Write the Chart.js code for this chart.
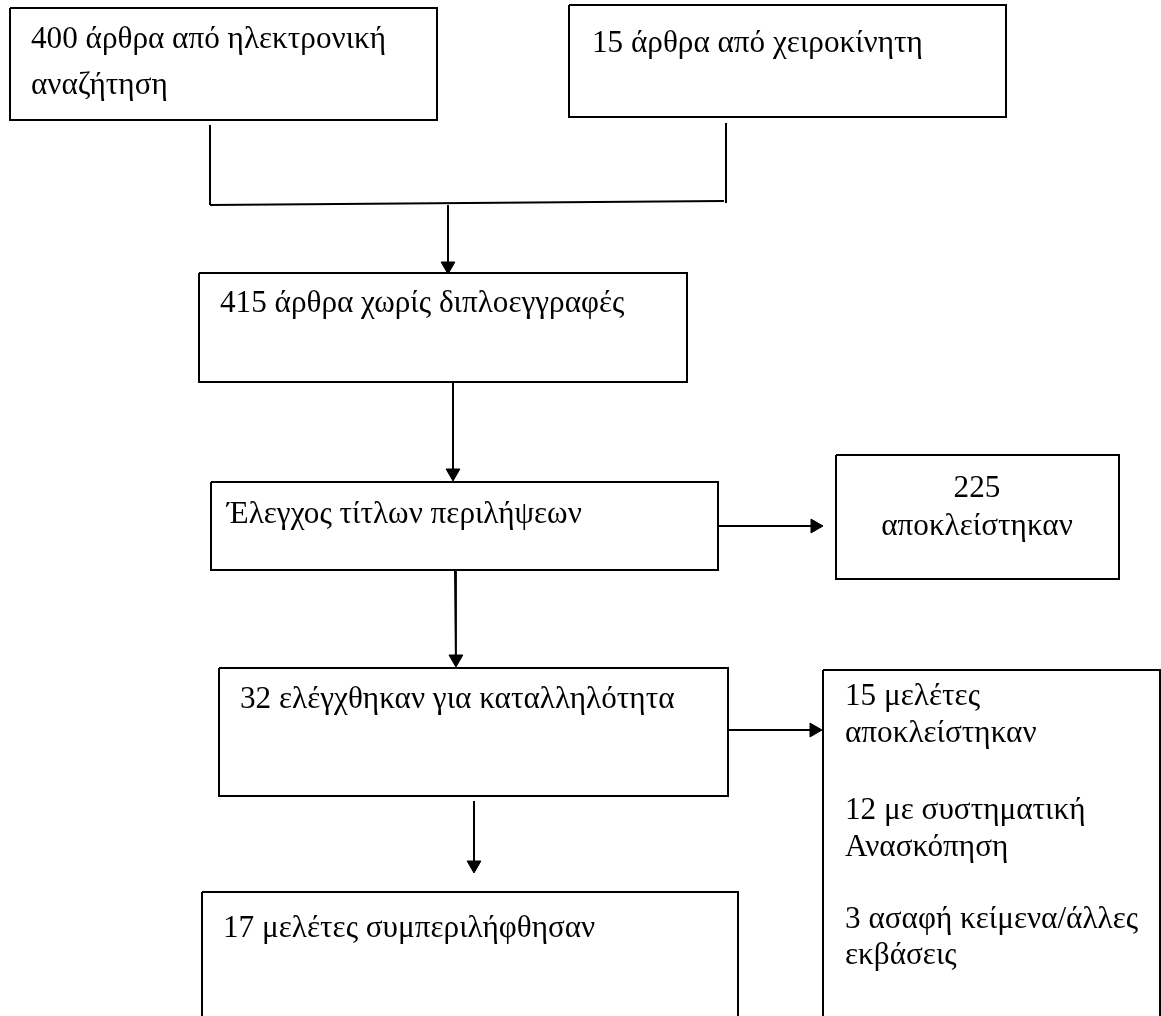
<!DOCTYPE html>
<html>
<head>
<meta charset="utf-8">
<script src="https://cdn.jsdelivr.net/npm/chart.js@4"></script>
<style>
  html, body { margin: 0; padding: 0; background: #fff; }
  #wrap { width: 1161px; height: 1016px; position: relative; }
</style>
</head>
<body>
<div id="wrap"><canvas id="flow"></canvas></div>
<script>
// texts of the flow boxes (one array per box, one entry per line)
const boxText = [
    ['400 άρθρα από ηλεκτρονική', 'αναζήτηση'],
    ['15 άρθρα από χειροκίνητη'],
    ['415 άρθρα χωρίς διπλοεγγραφές'],
    ['Έλεγχος τίτλων περιλήψεων'],
    ['225', 'αποκλείστηκαν'],
    ['32 ελέγχθηκαν για καταλληλότητα'],
    ['15 μελέτες', 'αποκλείστηκαν', '12 με συστηματική', 'Ανασκόπηση', '3 ασαφή κείμενα/άλλες', 'εκβάσεις'],
    ['17 μελέτες συμπεριλήφθησαν']
]

// layout (page units, 1 unit = 1px)
const boxFrames = [
    {x0: 10, y0: 8, x1: 437, y1: 120, tx: 31, base: [48, 94]},
    {x0: 569, y0: 5, x1: 1006, y1: 117, tx: 592, base: [52]},
    {x0: 199, y0: 273, x1: 687, y1: 382, tx: 220, base: [312]},
    {x0: 211, y0: 482, x1: 718, y1: 570, tx: 227, base: [523]},
    {x0: 836, y0: 455, x1: 1119, y1: 579, tx: 977, align: 'center', base: [497, 535]},
    {x0: 219, y0: 668, x1: 728, y1: 796, tx: 240, base: [708]},
    {x0: 823, y0: 670, x1: 1160, y1: 1040, tx: 845, base: [705, 742, 819, 856, 928, 964]},
    {x0: 202, y0: 892, x1: 738, y1: 1040, tx: 223, base: [937]}
]

const joinLines = [
    [[210, 125], [210, 205]],
    [[210, 205], [724, 201]],
    [[726, 123], [726, 203]]
]

const arrowLines = [
    [[448, 205], [448, 274]],
    [[453, 382], [453, 481]],
    [[718, 526], [823, 526]],
    [[455, 570], [456, 667]],
    [[728, 730], [822, 730]],
    [[474, 801], [474, 873]]
]

const headSize = 8
const fontFamily = '"Liberation Serif", "DejaVu Serif", serif'
// approx. width of "415 άρθρα χωρίς διπλοεγγραφές" in the picture, used to size the font
const refLineWidth = 405

const datasets = []

boxFrames.forEach(b => {
    datasets.push({
        data: [
            {x: b.x0, y: b.y0}, {x: b.x1, y: b.y0},
            {x: b.x1, y: b.y1}, {x: b.x0, y: b.y1}, {x: b.x0, y: b.y0}
        ],
        showLine: true,
        borderColor: '#000',
        borderWidth: 2,
        pointRadius: 0,
        borderJoinStyle: 'miter',
        backgroundColor: 'rgba(0,0,0,0)'
    })
})

joinLines.forEach(l => {
    datasets.push({
        data: l.map(p => ({x: p[0], y: p[1]})),
        showLine: true,
        borderColor: '#000',
        borderWidth: 2,
        pointRadius: 0
    })
})

arrowLines.forEach(l => {
    const [a, b] = l
    const dx = b[0] - a[0], dy = b[1] - a[1]
    const len = Math.hypot(dx, dy)
    const ux = dx / len, uy = dy / len
    // head centre sits one radius back from the tip
    datasets.push({
        data: [{x: a[0], y: a[1]}, {x: b[0] - ux * headSize, y: b[1] - uy * headSize}],
        showLine: true,
        borderColor: '#000',
        borderWidth: 2,
        pointRadius: 0
    })
    datasets.push({
        data: [{x: b[0] - ux * headSize, y: b[1] - uy * headSize}],
        showLine: false,
        pointStyle: 'triangle',
        pointRadius: headSize,
        rotation: Math.abs(dx) > Math.abs(dy) ? 90 : 180,
        backgroundColor: '#000',
        borderColor: '#000',
        borderWidth: 1
    })
})

const boxLabels = {
    id: 'boxLabels',
    afterDatasetsDraw(chart) {
        const ctx = chart.ctx
        const xs = chart.scales.x, ys = chart.scales.y
        ctx.save()
        ctx.font = '100px ' + fontFamily
        const w = ctx.measureText(boxText[2][0]).width
        const size = Math.round(100 * refLineWidth / w * 10) / 10
        ctx.font = size + 'px ' + fontFamily
        ctx.fillStyle = '#000'
        ctx.textBaseline = 'alphabetic'
        boxFrames.forEach((b, i) => {
            ctx.textAlign = b.align || 'left'
            boxText[i].forEach((line, j) => {
                ctx.fillText(line, xs.getPixelForValue(b.tx), ys.getPixelForValue(b.base[j]))
            })
        })
        ctx.restore()
    }
}

const ctx = document.querySelector('#flow').getContext('2d')
const flowChart = new Chart(ctx, {
    type: 'scatter',
    data: { datasets: datasets },
    options: {
        responsive: true,
        maintainAspectRatio: false,
        animation: false,
        layout: { padding: 0, autoPadding: false },
        clip: false,
        scales: {
            x: { type: 'linear', min: 0, max: 1161, display: false },
            y: { type: 'linear', min: 0, max: 1016, reverse: true, display: false }
        },
        plugins: {
            legend: { display: false },
            tooltip: { enabled: false }
        }
    },
    plugins: [boxLabels]
})
</script>
</body>
</html>
